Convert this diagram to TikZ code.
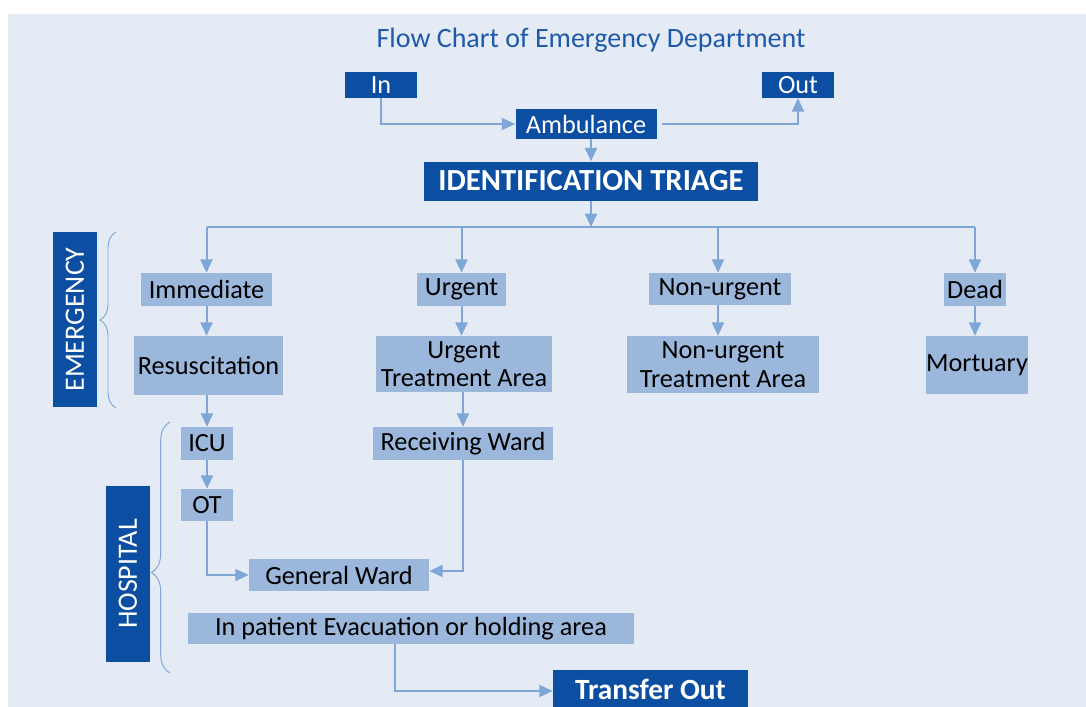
\documentclass[tikz,border=0pt]{standalone}
\usepackage{fontspec}
\setmainfont{Carlito}
\usetikzlibrary{arrows.meta,decorations.pathreplacing}
\definecolor{bg}{HTML}{E4EBF5}
\definecolor{dkblue}{HTML}{0B4EA2}
\definecolor{ltbox}{HTML}{9BB8DC}
\definecolor{conn}{HTML}{7EA6D7}
\definecolor{ttl}{HTML}{1F5AAA}

\begin{document}
\begin{tikzpicture}[x=0.75pt,y=-0.75pt,
  sz/.style 2 args={minimum width={#1*0.75pt}, minimum height={#2*0.75pt}},
  lbox/.style={fill=ltbox, text=black, inner sep=0pt, align=center,
               font=\fontsize{19.7}{21.5}\selectfont},
  dbox/.style={fill=dkblue, text=white, inner sep=0pt, align=center,
               font=\fontsize{19.7}{21.5}\selectfont},
  sidebar/.style={dbox, rotate=90, font=\fontsize{21}{24}\selectfont},
  flow/.style={draw=conn, line width=1.5pt, -{Triangle[length=10pt,width=9pt]}},
  thinflow/.style={draw=conn, line width=1pt, -{Triangle[length=10pt,width=9pt]}},
  busline/.style={draw=conn, line width=1.5pt},
  grp/.style={draw=conn, line width=0.7pt, decorate}
]
% canvas
\clip (0,0) rectangle (1086,707);
\fill[white] (0,0) rectangle (1086,707);
\fill[bg] (8,14) rectangle (1086,707);

% title
\node[text=ttl, font=\fontsize{21}{25}\selectfont] (title) at (591,40) {Flow Chart of Emergency Department};

% entry
\node[dbox, sz={72}{26}] (in) at (381,85) {In};
\node[dbox, sz={72}{26}] (out) at (798,85) {Out};
\node[dbox, sz={141}{30}] (amb) at (586,124) {Ambulance};
\node[dbox, sz={334}{39}, font=\bfseries\fontsize{23}{27}\selectfont] (tri) at (591,181) {IDENTIFICATION TRIAGE};

% emergency level
\node[lbox, sz={131}{33}] (imm) at (206.5,289.5) {Immediate};
\node[lbox, sz={89}{33}] (urg) at (461.5,289.5) {Urgent};
\node[lbox, sz={142}{32}] (nonu) at (720,289) {Non-urgent};
\node[lbox, sz={62}{33}] (dead) at (975,289.5) {Dead};
\node[lbox, sz={149}{59}] (resus) at (208.5,365.5) {Resuscitation};
\node[lbox, sz={176}{56}] (uta) at (464,364) {Urgent\\Treatment Area};
\node[lbox, sz={192}{57}] (nuta) at (723,364.5) {Non-urgent\\Treatment Area};
\node[lbox, sz={102}{58}] (mort) at (977,365) {Mortuary};
\node[sidebar, sz={175}{44}] (emerg) at (75,319.5) {EMERGENCY};

% hospital level
\node[lbox, sz={52}{33}] (icu) at (207,443.5) {ICU};
\node[lbox, sz={180}{33}] (rw) at (463,443.5) {Receiving Ward};
\node[lbox, sz={52}{32}] (ot) at (207,505) {OT};
\node[lbox, sz={180}{32}] (gw) at (339,575) {General Ward};
\node[lbox, sz={446}{31}] (evac) at (411,628.5) {In patient Evacuation or holding area};
\node[dbox, sz={195}{38}, font=\bfseries\fontsize{22}{24}\selectfont] (tout) at (650.5,689) {Transfer Out};
\fill[dkblue] (tout.south west) rectangle ([yshift=-6pt]tout.south east);
\node[sidebar, sz={176}{44}] (hosp) at (128,574) {HOSPITAL};

% connectors: arrival
\draw[thinflow] (in.south) |- (amb.west);
\draw[thinflow, shorten <=4pt] (amb.east) -| (out.south);
\draw[flow] (tri.north |- amb.south) -- (tri.north);
\coordinate (bus) at (591,227);
\draw[flow] (tri.south) -- (bus);

% triage bus and branches
\draw[busline] (imm.north |- bus) -- (dead.north |- bus);
\draw[flow] (imm.north |- bus) -- (imm.north);
\draw[flow] (urg.north |- bus) -- (urg.north);
\draw[flow] ([xshift=-1.5pt]nonu.north |- bus) -- ([xshift=-1.5pt]nonu.north);
\draw[flow] (dead.north |- bus) -- (dead.north);
\draw[flow] (imm.south) -- (imm.south |- resus.north);
\draw[flow] (urg.south) -- (urg.south |- uta.north);
\draw[flow] ([xshift=-1.5pt]nonu.south) -- ([xshift=-1.5pt]nonu.south |- nuta.north);
\draw[flow] (dead.south) -- (dead.south |- mort.north);

% onward to hospital
\draw[flow] (icu.north |- resus.south) -- (icu.north);
\draw[flow] (rw.north |- uta.south) -- (rw.north);
\draw[flow] (icu.south) -- (ot.north);
\draw[thinflow] (ot.south) |- (gw.west);
\draw[thinflow] (rw.south) |- ([yshift=3pt]gw.east);
\coordinate (evacdrop) at (395,644);
\draw[thinflow] (evacdrop) |- ([yshift=-1.5pt]tout.west);

% group braces
\draw[grp, decoration={brace, amplitude=12pt, aspect=0.5}] (116,408) -- (116,232);
\draw[grp, decoration={brace, amplitude=14pt, aspect=0.4}] (170,673) -- (170,422);
\end{tikzpicture}
\end{document}
